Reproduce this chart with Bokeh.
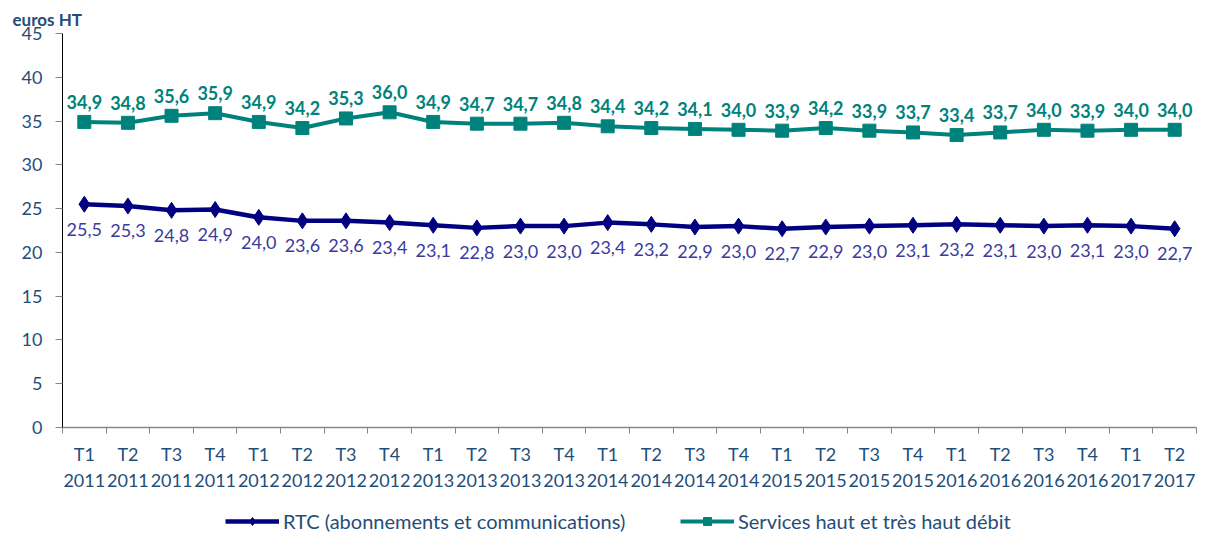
from bokeh.plotting import figure
from bokeh.models import ColumnDataSource, FixedTicker, Range1d, Legend, LegendItem, Title
from bokeh.layouts import column
from bokeh.core.properties import value
from bokeh.embed import file_html
from bokeh.resources import INLINE

quarters = ["T1", "T2", "T3", "T4"] * 6 + ["T1", "T2"]
years = [str(y) for y in range(2011, 2017) for _ in range(4)] + ["2017", "2017"]
rtc = [25.5, 25.3, 24.8, 24.9, 24.0, 23.6, 23.6, 23.4, 23.1, 22.8, 23.0, 23.0, 23.4,
       23.2, 22.9, 23.0, 22.7, 22.9, 23.0, 23.1, 23.2, 23.1, 23.0, 23.1, 23.0, 22.7]
hd = [34.9, 34.8, 35.6, 35.9, 34.9, 34.2, 35.3, 36.0, 34.9, 34.7, 34.7, 34.8, 34.4,
      34.2, 34.1, 34.0, 33.9, 34.2, 33.9, 33.7, 33.4, 33.7, 34.0, 33.9, 34.0, 34.0]
y_ticks = [0, 5, 10, 15, 20, 25, 30, 35, 40, 45]
series_names = ["RTC (abonnements et communications)", "Services haut et très haut débit"]

FONT = "Lato"
NAVY = "#000080"
NAVY_LBL = "#3B3B9C"
TEAL = "#00827C"
AXIS_TXT = "#1F4E79"

n = len(quarters)
xs = [i + 0.5 for i in range(n)]
fmt = lambda v: f"{v:.1f}".replace(".", ",")

src_rtc = ColumnDataSource(dict(x=xs, y=rtc, lbl=[fmt(v) for v in rtc]))
src_hd = ColumnDataSource(dict(x=xs, y=hd, lbl=[fmt(v) for v in hd]))

p = figure(width=1211, height=500, output_backend="svg", toolbar_location=None,
           x_range=Range1d(0, n), y_range=Range1d(0, 45),
           min_border_left=62, min_border_right=15, min_border_top=33, min_border_bottom=73)
p.outline_line_color = None
p.xgrid.visible = False
p.ygrid.visible = False
p.background_fill_color = "white"

# y axis
ya = p.yaxis[0]
ya.ticker = FixedTicker(ticks=y_ticks)
ya.axis_line_color = "black"
ya.axis_line_width = 1
ya.major_tick_line_color = "#868686"
ya.major_tick_out = 7
ya.major_tick_in = 0
ya.minor_tick_line_color = None
ya.major_label_text_font = FONT
ya.major_label_text_font_size = "18px"
ya.major_label_text_color = AXIS_TXT
ya.major_label_standoff = 13

# x axis
xa = p.xaxis[0]
xa.ticker = FixedTicker(ticks=xs, minor_ticks=list(range(n + 1)))
xa.major_label_overrides = {x: f"{q}\n{y}" for x, q, y in zip(xs, quarters, years)}
xa.axis_line_color = "#868686"
xa.axis_line_width = 1.5
xa.major_tick_line_color = None
xa.minor_tick_line_color = "#868686"
xa.minor_tick_out = 6
xa.minor_tick_in = 0
xa.major_label_text_font = FONT
xa.major_label_text_font_size = "18px"
xa.major_label_text_color = AXIS_TXT
xa.major_label_standoff = 9

# series
p.line("x", "y", source=src_rtc, line_color=NAVY, line_width=4.5)
p.scatter("x", "y", source=src_rtc, marker="diamond", size=16, fill_color=NAVY, line_color=NAVY)
p.line("x", "y", source=src_hd, line_color=TEAL, line_width=4)
p.scatter("x", "y", source=src_hd, marker="square", size=13, fill_color=TEAL, line_color=TEAL)

p.text("x", "y", text="lbl", source=src_rtc, text_font=value(FONT), text_font_size="18px",
       text_color=NAVY_LBL, text_align="center", text_baseline="middle", y_offset=25)
p.text("x", "y", text="lbl", source=src_hd, text_font=value(FONT), text_font_size="18px",
       text_font_style="bold", text_color=TEAL, text_align="center", text_baseline="middle", y_offset=-20)

p.add_layout(Title(text="euros HT", text_font=FONT, text_font_size="17px", text_font_style="bold",
                   text_color=AXIS_TXT, align="left", offset=-50, standoff=8), "above")

# legend strip (its frame is aligned with the main frame, which starts at x=62)
q = figure(width=1211, height=36, output_backend="svg", toolbar_location=None,
           x_range=Range1d(0, 1), y_range=Range1d(0, 1),
           min_border_left=62, min_border_right=15, min_border_top=0, min_border_bottom=0)
q.outline_line_color = None
q.axis.visible = False
q.grid.visible = False
dx, dy = [-5, -4], [-5, -4]
ll1 = q.line(x=dx, y=dy, line_color=NAVY, line_width=4.5)
lm1 = q.scatter(x=dx, y=dy, marker="diamond", size=15, fill_color=NAVY, line_color=NAVY)
ll2 = q.line(x=dx, y=dy, line_color=TEAL, line_width=4)
lm2 = q.scatter(x=dx, y=dy, marker="square", size=12, fill_color=TEAL, line_color=TEAL)

for name, rends, xpos in [(series_names[0], [ll1, lm1], 225), (series_names[1], [ll2, lm2], 680)]:
    lg = Legend(items=[LegendItem(label=name, renderers=rends)], location=(xpos - 62, 3),
                orientation="horizontal", border_line_color=None, background_fill_alpha=0,
                label_text_font=FONT, label_text_font_size="20px", label_text_color=AXIS_TXT,
                glyph_width=54, glyph_height=20, label_standoff=4, padding=0, margin=0)
    q.add_layout(lg)

open("out.html", "w").write(file_html(column(p, q, spacing=0), INLINE))
